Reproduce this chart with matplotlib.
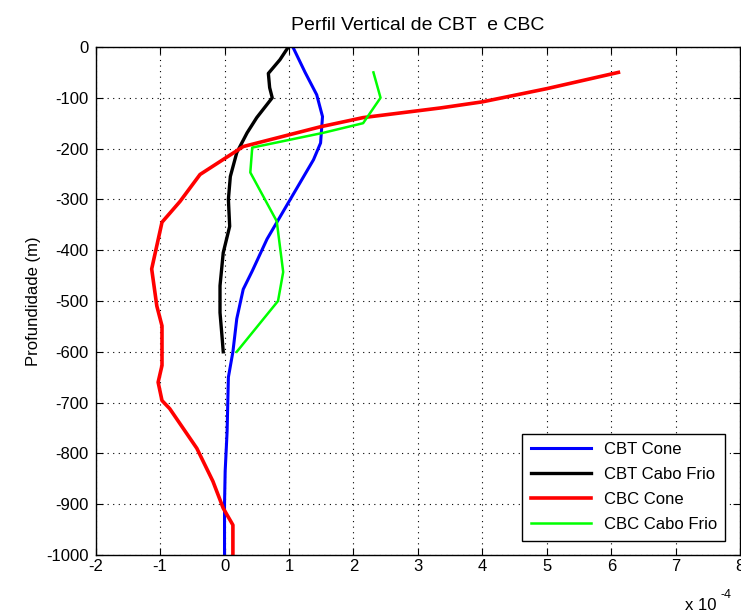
import matplotlib
matplotlib.use("Agg")
import matplotlib.pyplot as plt

plt.rcParams['font.family'] = ['Liberation Sans', 'DejaVu Sans']
plt.rcParams['axes.unicode_minus'] = False

# Vertical profiles (values in units of 1e-4), depth in metres
cbt_cone_x = [1.06, 1.25, 1.43, 1.52, 1.49, 1.38, 1.02, 0.66, 0.43, 0.29, 0.19, 0.13, 0.06, 0.04, 0.01, 0.0, 0.0]
cbt_cone_z = [0, -50, -94, -137, -189, -222, -300, -378, -441, -477, -535, -600, -650, -757, -835, -900, -1000]

cbt_cf_x = [0.99, 0.86, 0.68, 0.70, 0.74, 0.50, 0.35, 0.19, 0.09, 0.06, 0.08, -0.02, -0.07, -0.07, -0.04, -0.02]
cbt_cf_z = [0, -25, -52, -80, -100, -139, -169, -208, -255, -300, -353, -405, -470, -523, -568, -600]

cbc_cone_x = [6.11, 5.0, 4.0, 3.35, 2.15, 1.49, 0.29, -0.38, -0.69, -0.97, -1.13, -1.05, -0.97, -0.97, -1.03, -0.97, -0.85, -0.43, -0.18, -0.02, 0.13, 0.13]
cbc_cone_z = [-50, -82, -108, -120, -139, -157, -196, -251, -304, -345, -437, -510, -549, -627, -660, -696, -712, -790, -855, -908, -941, -1000]

cbc_cf_x = [2.31, 2.42, 2.15, 1.53, 0.43, 0.40, 0.81, 0.91, 0.83, 0.19]
cbc_cf_z = [-50, -100, -150, -169, -198, -247, -343, -443, -500, -600]

x_ticks = list(range(-2, 9))
y_ticks = list(range(-1000, 1, 100))

fig = plt.figure(figsize=(7.41, 6.15), dpi=100)
ax = fig.add_axes([0.129, 0.0976, 0.870, 0.826])

ax.plot(cbt_cone_x, cbt_cone_z, color='#0000ff', lw=2.2, label='CBT Cone')
ax.plot(cbt_cf_x, cbt_cf_z, color='black', lw=2.4, label='CBT Cabo Frio')
ax.plot(cbc_cone_x, cbc_cone_z, color='#ff0000', lw=2.6, label='CBC Cone')
ax.plot(cbc_cf_x, cbc_cf_z, color='#00ff00', lw=1.8, label='CBC Cabo Frio')

ax.set_xlim(-2, 8)
ax.set_ylim(-1000, 0)
ax.set_xticks(x_ticks)
ax.set_yticks(y_ticks)
ax.tick_params(direction='in', top=True, right=True, labelsize=12, length=5)
ax.tick_params(axis='y', pad=5)
ax.tick_params(axis='x', pad=3)
ax.grid(True, color='black', linestyle=(0, (1, 4)), linewidth=0.8)
for s in ax.spines.values():
    s.set_linewidth(1.0)

ax.set_title('Perfil Vertical de CBT  e CBC', fontsize=14, pad=12)
ax.set_ylabel('Profundidade (m)', fontsize=12, labelpad=4)

# axis multiplier label
fig.text(0.925, 0.016, 'x 10', fontsize=12, ha='left', va='center')
fig.text(0.973, 0.033, '-4', fontsize=9, ha='left', va='center')

leg = ax.legend(loc='lower right', bbox_to_anchor=(0.99, 0.012), fontsize=12,
                frameon=True, fancybox=False, edgecolor='black', framealpha=1,
                handlelength=3.6, labelspacing=0.6, borderpad=0.5)
leg.get_frame().set_linewidth(1.0)

fig.savefig('out.png', dpi=100)
